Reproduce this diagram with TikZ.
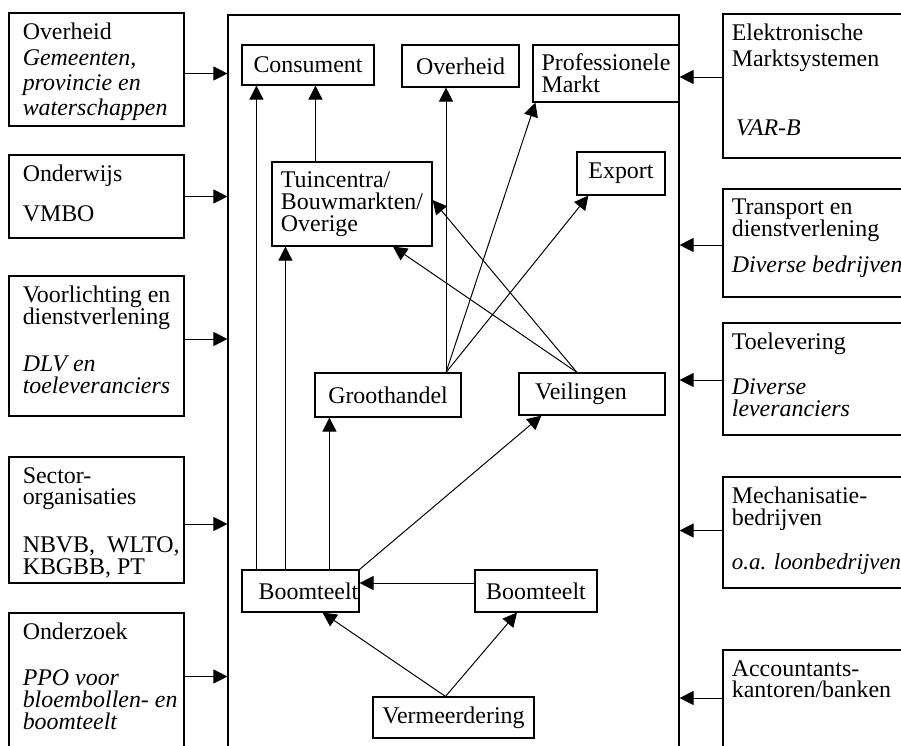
\documentclass[tikz,border=0pt]{standalone}
\usepackage{fontspec}
\setmainfont{Liberation Serif}
\usetikzlibrary{positioning, calc, fit}
\usetikzlibrary{arrows.meta}
\setlength{\normallineskiplimit}{-20pt}
\setlength{\lineskiplimit}{-20pt}

\begin{document}
\begin{tikzpicture}
	[   x=0.025cm, y=-0.025cm,
		sbox/.style={draw=black,line width=0.8pt,inner sep=0pt},
		stxt/.style={anchor=north west,align=left,inner xsep=#1,inner ysep=7.5pt,font={\fontsize{17}{15.5}\selectfont}},
		itxt/.style={anchor=center,align=left,inner sep=0pt,font={\fontsize{17}{15.5}\selectfont}},
	]
	\tikzset{flow/.style={draw,line width=0.7pt,-{Triangle[length=10pt,width=10pt]}}}
	\useasboundingbox (0,0) rectangle (901,745);
	\clip (0,0) rectangle (901,745);
	
	\node[sbox,fit={(228,15) (679,790)}] (main) {};
	
	\node[sbox,fit={(9,13) (184,126)},label={[stxt=10pt]north west:{Overheid\\[2.5pt]\textit{Gemeenten,}\\[2.5pt]\textit{provincie en}\\[2.5pt]\textit{waterschappen}}}] (ovh) {};
	\node[sbox,fit={(9,155) (184,238)},label={[stxt=10pt]north west:{Onderwijs\\[12.5pt]VMBO}}] (ondw) {};
	\node[sbox,fit={(9,276) (184,416)},label={[stxt=10pt]north west:{Voorlichting en\\dienstverlening\\[18pt]\textit{DLV en}\\\textit{toeleveranciers}}}] (vl) {};
	\node[sbox,fit={(9,457) (184,583)},label={[stxt=10pt]north west:{Sector-\\organisaties\\[18.5pt]NBVB, \ WLTO,\\KBGBB, PT}}] (sect) {};
	\node[sbox,fit={(9,613) (184,780)},label={[stxt=10pt]north west:{Onderzoek\\[17pt]\textit{PPO voor}\\\textit{bloembollen- en}\\\textit{boomteelt}}}] (onz) {};
	
	\node[sbox,fit={(723,14) (940,158)},label={[stxt=6.5pt]north west:{Elektronische\\[3pt]Marktsystemen\\[33.5pt]\hspace*{3pt}\textit{VAR-B}}}] (elek) {};
	\node[sbox,fit={(723,189) (940,297)},label={[stxt=6.5pt]north west:{Transport en\\dienstverlening\\[10pt]\textit{Diverse bedrijven}}}] (trans) {};
	\node[sbox,fit={(723,323) (940,435)},label={[stxt=6.5pt]north west:{Toelevering\\[16.5pt]\textit{Diverse}\\\textit{leveranciers}}}] (toel) {};
	\node[sbox,fit={(723,477) (940,588)},label={[stxt=6.5pt]north west:{Mechanisatie-\\bedrijven\\[15.5pt]{\fontsize{16.3}{15.5}\selectfont\textit{o.a. loonbedrijven}}}}] (mech) {};
	\node[sbox,fit={(723,650) (940,780)},label={[stxt=6.5pt]north west:{Accountants-\\kantoren/banken}}] (acc) {};
	
	\node[sbox,fit={(242,45) (374,85)},label={[itxt]center:Consument}] (cons) {};
	\node[sbox,fit={(402,45) (519,87)},label={[itxt]center:Overheid}] (ovi) {};
	\node[sbox,fit={(533,45) (679,102)},label={[itxt]center:{Professionele\\Markt}}] (prof) {};
	\node[sbox,fit={(272,162) (432,246)},label={[itxt]center:{Tuincentra/\\Bouwmarkten/\\Overige}}] (tuin) {};
	\node[sbox,fit={(577,152) (665,195)},label={[itxt]center:Export}] (expo) {};
	\node[sbox,fit={(315,373) (461,417)},label={[itxt]center:Groothandel}] (groot) {};
	\node[sbox,fit={(519,373) (665,415)},label={[itxt]center:{Veilingen\hspace*{0.55cm}}}] (veil) {};
	\node[sbox,fit={(242,570) (359,612)},label={[itxt]center:{\hspace*{0.4cm}Boomteelt}}] (b1) {};
	\node[sbox,fit={(475,570) (597,612)},label={[itxt]center:Boomteelt}] (b2) {};
	\node[sbox,fit={(373,697) (534,738)},label={[itxt]center:Vermeerdering}] (verm) {};
	
	
	\foreach \b/\d in {ovh/4,ondw/0,vl/-7,sect/4,onz/-20}
	{
		\draw[flow] ($(\b.east)+(0,\d)$) -- ($(main.west |- \b.east)+(0,\d)$);
	}
	\foreach \b/\d in {elek/-9,trans/2,toel/1,mech/-2,acc/-17}
	{
		\draw[flow] ($(\b.west)+(0,\d)$) -- ($(main.east |- \b.west)+(0,\d)$);
	}
	
	\draw[flow] ($(b1.north west)+(15,0)$) -- ($(cons.south west)+(15,0)$);
	\draw[flow] ($(b1.north west)+(44,0)$) -- ($(tuin.south west)+(14,0)$);
	\draw[flow] ($(tuin.north west)+(44,0)$) -- ($(cons.south west)+(74,0)$);
	\draw[flow] ($(b1.north west)+(88,0)$) -- ($(groot.south west)+(15,0)$);
	\draw[flow] (b1.north east) -- ($(veil.south west)+(23,0)$);
	\draw[flow] ($(b2.west)+(0,-8)$) -- ($(b1.east)+(0,-8)$);
	\draw[flow] ($(verm.north)+(-8,0)$) -- ($(b1.south)+(22,0)$);
	\draw[flow] ($(verm.north)+(-8,0)$) -- ($(b2.south)+(-19,0)$);
	
	\coordinate (gt) at ($(groot.north)+(58,0)$);
	\coordinate (vt) at ($(veil.north)+(-15,0)$);
	\draw[flow] (gt) -- (gt |- ovi.south);
	\draw[flow] (gt) -- ($(prof.south west)+(3,0)$);
	\draw[flow] (gt) -- ($(expo.south west)+(12,0)$);
	\draw[flow] (vt) -- ($(tuin.east)+(0,-4)$);
	\draw[flow] (vt) -- ($(tuin.south)+(41,0)$);
	%\draw (gt) -- (vt);
\end{tikzpicture}
\end{document}
